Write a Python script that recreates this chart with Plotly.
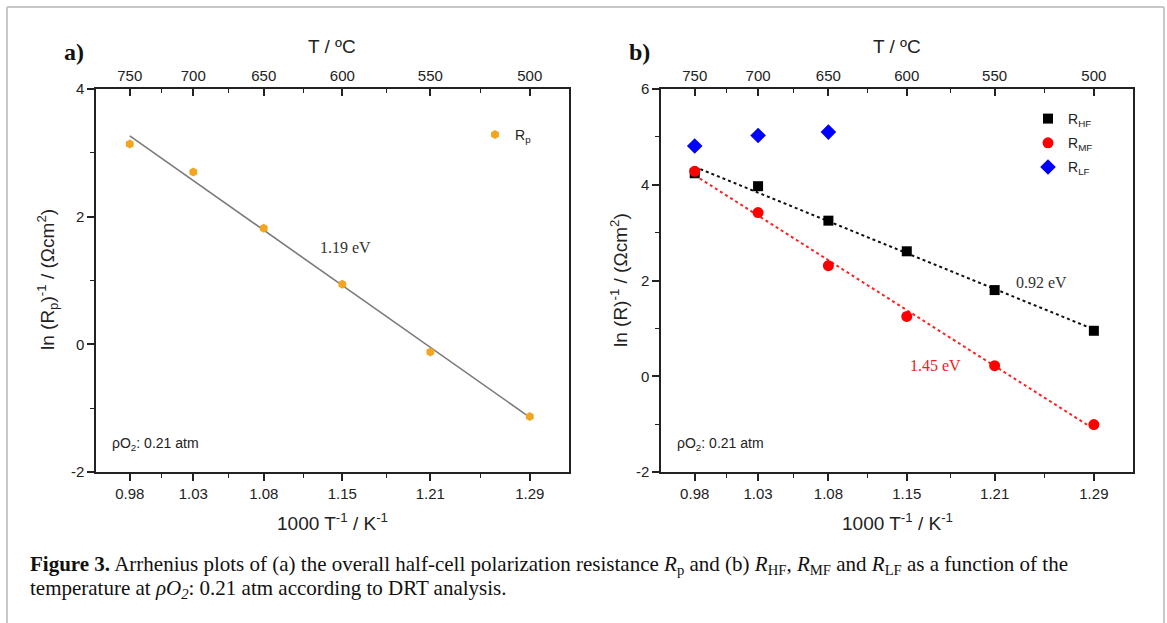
import numpy as np
import plotly.graph_objects as go

# ---- data ----
inv_T = [0.9775, 1.0277, 1.0834, 1.1455, 1.2151, 1.2937]   # 1000/T (K^-1)
inv_T_labels = ["0.98", "1.03", "1.08", "1.15", "1.21", "1.29"]
temp_labels = ["750", "700", "650", "600", "550", "500"]      # T / ºC

ln_Rp = [3.14, 2.70, 1.82, 0.94, -0.12, -1.13]
ln_RHF = [4.24, 3.97, 3.25, 2.61, 1.80, 0.95]
ln_RMF = [4.28, 3.42, 2.31, 1.25, 0.22, -1.01]
ln_RLF = [4.81, 5.03, 5.10]

ya_ticks = [-2, 0, 2, 4]
yb_ticks = [-2, 0, 2, 4, 6]

Ea_p = "1.19 eV"
Ea_HF = "0.92 eV"
Ea_MF = "1.45 eV"

W, H = 1167, 623
def px(x): return x / W
def py(y): return 1 - y / H

SANS = "Liberation Sans, Arial, sans-serif"
SERIF = "Liberation Serif, Times New Roman, serif"
AX = "#222222"

x = np.array(inv_T)
minor_x = list((x[:-1] + x[1:]) / 2)

def fit(xs, ys):
    k, b = np.polyfit(xs, ys, 1)
    xx = np.array([xs[0], xs[-1]])
    return xx, k * xx + b

fig = go.Figure()

# ---- panel a ----
fx, fy = fit(x, np.array(ln_Rp))
fig.add_trace(go.Scatter(x=fx, y=fy, mode="lines", line=dict(color="#7a7a7a", width=1.6),
                         showlegend=False, xaxis="x", yaxis="y", hoverinfo="skip"))
fig.add_trace(go.Scatter(x=inv_T, y=ln_Rp, mode="markers", name="R<sub>p</sub>",
                         marker=dict(symbol="hexagon", size=9, color="#F2A51F"),
                         xaxis="x", yaxis="y", legend="legend"))

# ---- panel b ----
fx, fy = fit(x, np.array(ln_RHF))
fig.add_trace(go.Scatter(x=fx, y=fy, mode="lines", line=dict(color="#111111", width=2, dash="dot"),
                         showlegend=False, xaxis="x2", yaxis="y2", hoverinfo="skip"))
fx, fy = fit(x, np.array(ln_RMF))
fig.add_trace(go.Scatter(x=fx, y=fy, mode="lines", line=dict(color="#ff2020", width=2, dash="dot"),
                         showlegend=False, xaxis="x2", yaxis="y2", hoverinfo="skip"))
fig.add_trace(go.Scatter(x=inv_T, y=ln_RHF, mode="markers", name="R<sub>HF</sub>",
                         marker=dict(symbol="square", size=10, color="#000000"),
                         xaxis="x2", yaxis="y2", legend="legend2", legendgroup="hf"))
fig.add_trace(go.Scatter(x=inv_T, y=ln_RMF, mode="markers", name="R<sub>MF</sub>",
                         marker=dict(symbol="circle", size=11, color="#ff0000"),
                         xaxis="x2", yaxis="y2", legend="legend2", legendgroup="mf"))
fig.add_trace(go.Scatter(x=inv_T[:3], y=ln_RLF, mode="markers", name="R<sub>LF</sub>",
                         marker=dict(symbol="diamond", size=12, color="#0000ff"),
                         xaxis="x2", yaxis="y2", legend="legend2", legendgroup="lf"))

# dummy traces so the top (temperature) axes render
fig.add_trace(go.Scatter(x=[inv_T[0]], y=[None], xaxis="x3", yaxis="y", showlegend=False))
fig.add_trace(go.Scatter(x=[inv_T[0]], y=[None], xaxis="x4", yaxis="y2", showlegend=False))

xr = [0.9508, 1.3247]
common_x = dict(range=xr, tickmode="array", tickvals=inv_T, showgrid=False, zeroline=False,
                showline=True, linecolor=AX, linewidth=1.5, tickcolor=AX, tickwidth=1.5,
                tickfont=dict(family=SANS, size=15, color=AX), fixedrange=True, automargin=False)
bottom = dict(common_x, ticktext=inv_T_labels, ticks="outside", ticklen=7,
              minor=dict(tickmode="array", tickvals=minor_x, ticks="outside", ticklen=4,
                         tickcolor=AX, tickwidth=1.2))
top = dict(common_x, ticktext=temp_labels, ticks="inside", ticklen=7, side="top",
           minor=dict(tickmode="array", tickvals=minor_x, ticks="inside", ticklen=4,
                      tickcolor=AX, tickwidth=1.2))
common_y = dict(showgrid=False, zeroline=False, showline=True, mirror=True, linecolor=AX,
                linewidth=1.5, ticks="outside", ticklen=7, tickcolor=AX, tickwidth=1.5,
                tickfont=dict(family=SANS, size=15, color=AX), fixedrange=True, automargin=False,
                tickmode="array")

dA = [px(96), px(569)]
dB = [px(661), px(1133)]
dY = [py(472), py(89)]

fig.update_layout(
    width=W, height=H, margin=dict(l=0, r=0, t=0, b=0, autoexpand=False),
    paper_bgcolor="white", plot_bgcolor="white",
    xaxis=dict(bottom, domain=dA, anchor="y"),
    xaxis3=dict(top, overlaying="x", anchor="y"),
    yaxis=dict(common_y, domain=dY, anchor="x", range=[-2, 4], tickvals=ya_ticks,
               ticktext=[str(v) for v in ya_ticks],
               minor=dict(tickmode="array", tickvals=[-1, 1, 3], ticks="outside", ticklen=4,
                          tickcolor=AX, tickwidth=1.2)),
    xaxis2=dict(bottom, domain=dB, anchor="y2"),
    xaxis4=dict(top, overlaying="x2", anchor="y2"),
    yaxis2=dict(common_y, domain=dY, anchor="x2", range=[-2, 6], tickvals=yb_ticks,
                ticktext=[str(v) for v in yb_ticks],
                minor=dict(tickmode="array", tickvals=[-1, 1, 3, 5], ticks="outside", ticklen=4,
                           tickcolor=AX, tickwidth=1.2)),
    legend=dict(x=px(475), y=py(119), xanchor="left", yanchor="top", bgcolor="rgba(0,0,0,0)",
                font=dict(family=SANS, size=14, color=AX), itemwidth=30),
    legend2=dict(x=px(1028), y=py(103), xanchor="left", yanchor="top", bgcolor="rgba(0,0,0,0)",
                 font=dict(family=SANS, size=14, color=AX), itemwidth=30, tracegroupgap=3),
)

ann = []
def A(xp, yp, text, size, family=SANS, color=AX, angle=0, xanchor="center"):
    ann.append(dict(x=px(xp), y=py(yp), xref="paper", yref="paper", text=text, showarrow=False,
                    font=dict(family=family, size=size, color=color), textangle=angle,
                    xanchor=xanchor, yanchor="middle"))

for cx in (332, 897):
    A(cx, 47, "T / ºC", 19)
    A(cx, 522, "1000 T<sup>-1</sup> / K<sup>-1</sup>", 19)
A(74, 52, "<b>a)</b>", 24, family=SERIF, color="#111")
A(639, 52, "<b>b)</b>", 24, family=SERIF, color="#111")
A(47, 280, "ln (R<sub>p</sub>)<sup>-1</sup> / (Ωcm<sup>2</sup>)", 19, angle=-90)
A(619, 280, "ln (R)<sup>-1</sup> / (Ωcm<sup>2</sup>)", 19, angle=-90)
A(345, 248, Ea_p, 16, family=SERIF, color="#333")
A(1041, 282, Ea_HF, 16, family=SERIF, color="#333")
A(935, 365, Ea_MF, 16, family=SERIF, color="#ee2020")
A(110, 444, "ρO<sub>2</sub>: 0.21 atm", 14, xanchor="left")
A(675, 444, "ρO<sub>2</sub>: 0.21 atm", 14, xanchor="left")
A(28, 565, "<b>Figure 3.</b> Arrhenius plots of (a) the overall half-cell polarization resistance "
           "<i>R</i><sub>p</sub> and (b) <i>R</i><sub>HF</sub>, <i>R</i><sub>MF</sub> and "
           "<i>R</i><sub>LF</sub> as a function of the", 21, family=SERIF, color="#111", xanchor="left")
A(28, 589, "temperature at <i>ρO</i><sub><i>2</i></sub>: 0.21 atm according to DRT analysis.", 21,
  family=SERIF, color="#111", xanchor="left")
fig.update_layout(annotations=ann)

# border frame (open at bottom)
for x0, y0, x1, y1 in [(7, 7, 1164, 7), (7, 7, 7, 623), (1164, 7, 1164, 623)]:
    fig.add_shape(type="line", xref="paper", yref="paper", x0=px(x0), y0=py(y0), x1=px(x1), y1=py(y1),
                  line=dict(color="#c8c8c8", width=2))

fig.write_html("out.html", config={"displayModeBar": False},
               post_script="document.body.style.margin='0';document.body.style.overflow='hidden';")
